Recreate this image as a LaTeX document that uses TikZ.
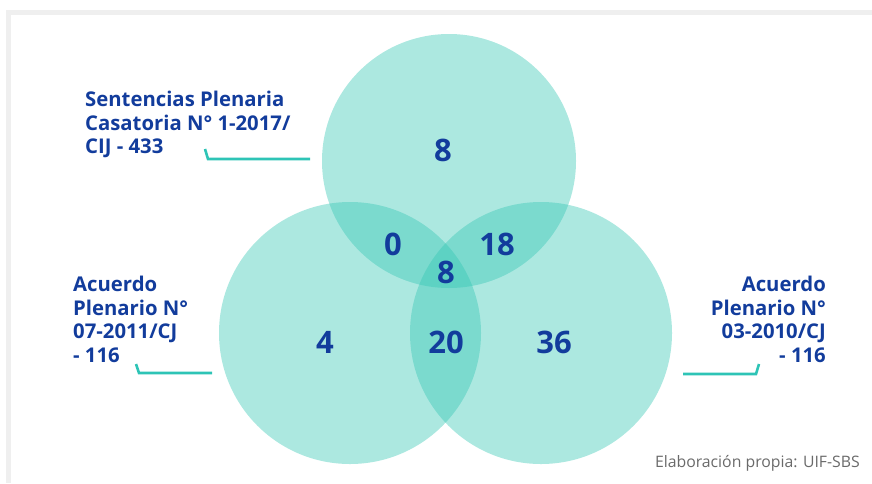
\documentclass[tikz,border=0pt]{standalone}
\usepackage{fontspec}
\setmainfont{Open Sans}
\definecolor{vennfill}{HTML}{30C5B2}
\definecolor{leadcol}{HTML}{2EC4B6}
\definecolor{labelblue}{HTML}{123C9C}
\definecolor{framegray}{HTML}{EFEFEF}
\definecolor{notegray}{HTML}{6A6A6A}
\begin{document}
\begin{tikzpicture}[x=1pt,y=-1pt,
    setcircle/.style={fill=vennfill, fill opacity=0.4},
    count/.style={font=\bfseries\fontsize{31}{32}\selectfont, text=labelblue},
    setlabel/.style={font=\bfseries\fontsize{20.3}{23.5}\selectfont, text=labelblue, inner sep=0pt},
    leader/.style={draw=leadcol, line width=2.6pt}]
  \useasboundingbox (0,0) rectangle (872,483);
  % Frame
  \fill[framegray] (6,10) rectangle (872,15);
  \fill[framegray] (6,10) rectangle (11,483);
  % Circles
  \fill[setcircle] (449,161) circle (127pt);
  \fill[setcircle] (350,333) circle (131pt);
  \fill[setcircle] (541,333) circle (131pt);
  % Counts
  \node[count] (onlyA) at (443,150) {8};
  \node[count] (AB) at (393,244) {0};
  \node[count] (AC) at (497,244) {18};
  \node[count] (ABC) at (446,272) {8};
  \node[count] (onlyB) at (325,342) {4};
  \node[count] (BC) at (446,342) {20};
  \node[count] (onlyC) at (554,342) {36};
  % Set labels
  \node[setlabel, align=left, anchor=north west] (labA) at (85,91)
    {Sentencias Plenaria\\Casatoria N° 1-2017/\\CIJ - 433};
  \node[setlabel, align=left, anchor=north west] (labB) at (73,276)
    {Acuerdo\\Plenario N°\\07-2011/CJ\\- 116};
  \node[setlabel, align=right, anchor=north east] (labC) at (826,276)
    {Acuerdo\\Plenario N°\\03-2010/CJ\\- 116};
  % Leader lines
  \coordinate (tA) at (205,149);
  \coordinate (kA) at (208,159);
  \coordinate (eA) at (310,159);
  \coordinate (tB) at (136,364);
  \coordinate (kB) at (139,373);
  \coordinate (eB) at (212,373);
  \coordinate (tC) at (759,364);
  \coordinate (kC) at (756,374);
  \coordinate (eC) at (683,374);
  \draw[leader] (tA) -- (kA) -- (eA);
  \draw[leader] (tB) -- (kB) -- (eB);
  \draw[leader] (tC) -- (kC) -- (eC);
  % Source note
  \node[font=\fontsize{15.8}{17}\selectfont, text=notegray, anchor=base east, inner sep=0pt] (source) at (860,467)
    {Elaboración propia: UIF-SBS};
\end{tikzpicture}
\end{document}
